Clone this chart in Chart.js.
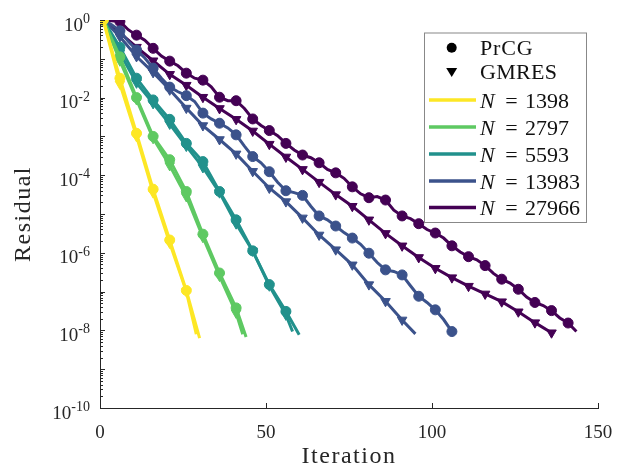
<!DOCTYPE html>
<html><head><meta charset="utf-8">
<script src="https://cdn.jsdelivr.net/npm/chart.js@4.4.1/dist/chart.umd.min.js"></script>
<style>html,body{margin:0;padding:0;background:#fff}#c{display:block}</style>
</head><body>
<canvas id="c" width="619" height="468" style="width:619px;height:468px"></canvas>
<script>
// ---- data (log10 of residual) ----
// marker values at iterations 1, 6, 11, ... (every 5 iterations)
const sizes = ['1398', '2797', '5593', '13983', '27966'];
const colors = ['#fde725', '#5ec962', '#21918c', '#3b528b', '#440154'];

const prcg1398  = [0, -1.50, -2.92, -4.36, -5.67, -6.97];
const prcg1398End = [30, -8.20];
const gmres1398 = [0, -1.65, -3.00, -4.45, -5.75, -7.00];
const gmres1398End = [29, -8.10];

const prcg2797  = [0, -0.95, -2.00, -3.00, -3.60, -4.42, -5.52, -6.52, -7.42];
const prcg2797End = [44, -8.17];
const gmres2797 = [0, -1.05, -2.05, -3.05, -3.75, -4.55, -5.60, -6.60, -7.55];
const gmres2797End = [43, -8.10];

const prcg5593  = [0, -0.70, -1.50, -2.06, -2.56, -3.18, -3.65, -4.42, -5.15, -5.95, -6.82, -7.51];
const prcg5593End = [60, -8.11];
const gmres5593 = [0, -0.85, -1.62, -2.15, -2.68, -3.25, -3.80, -4.45, -5.25, -5.95, -6.85, -7.60];
const gmres5593End = [58, -8.03];

const prcg13983 = [0, -0.28, -0.77, -1.24, -1.73, -1.95, -2.40, -2.66, -2.96, -3.52, -3.91, -4.40, -4.52,
                   -5.05, -5.31, -5.62, -6.01, -6.44, -6.57, -7.12, -7.47, -8.03];
// values between markers (iterations 3.5, 8.5, ...)
const prcg13983Mid = [-0.12, -0.55, -0.98, -1.50, -1.85, -2.10, -2.55, -2.78, -3.25, -3.68, -4.18, -4.45,
                      -4.80, -5.15, -5.48, -5.78, -6.25, -6.48, -6.85, -7.28, -7.72];
const gmres13983 = [0, -0.43, -0.94, -1.35, -1.80, -2.27, -2.72, -3.08, -3.45, -3.90, -4.33, -4.68, -5.10,
                    -5.54, -5.92, -6.31, -6.82, -7.25, -7.73];
const gmres13983End = [95, -8.09];

const prcg27966 = [0, -0.04, -0.39, -0.73, -1.06, -1.37, -1.55, -1.99, -2.08, -2.55, -2.85, -3.18, -3.48,
                   -3.68, -3.94, -4.30, -4.58, -4.64, -5.05, -5.25, -5.49, -5.82, -6.10, -6.33, -6.68,
                   -6.94, -7.28, -7.49, -7.81];
const prcg27966Mid = [-0.02, -0.25, -0.52, -0.93, -1.18, -1.50, -1.72, -2.08, -2.28, -2.72, -2.98, -3.35,
                      -3.55, -3.85, -4.08, -4.48, -4.55, -4.90, -5.12, -5.40, -5.62, -5.98, -6.18, -6.53,
                      -6.78, -7.14, -7.36, -7.68];
const prcg27966End = [143.5, -8.03];
const gmres27966 = [0, -0.33, -0.70, -1.05, -1.40, -1.68, -1.99, -2.28, -2.56, -2.86, -3.20, -3.53, -3.85,
                    -4.18, -4.50, -4.80, -5.15, -5.50, -5.82, -6.12, -6.40, -6.64, -6.86, -7.06, -7.26,
                    -7.52, -7.80, -8.06];

const xTicks = [0, 50, 100, 150];
const yTickExps = [0, -2, -4, -6, -8, -10];

// ---- build points ----
function build(markers, mids, end) {
  const pts = [];
  markers.forEach((e, i) => pts.push({x: 1 + 5 * i, y: Math.pow(10, e), m: true}));
  (mids || []).forEach((e, i) => pts.push({x: 3.5 + 5 * i, y: Math.pow(10, e), m: false}));
  if (end) pts.push({x: end[0], y: Math.pow(10, end[1]), m: false});
  pts.sort((a, b) => a.x - b.x);
  return pts;
}
const series = [
  [prcg1398, null, prcg1398End, gmres1398, null, gmres1398End],
  [prcg2797, null, prcg2797End, gmres2797, null, gmres2797End],
  [prcg5593, null, prcg5593End, gmres5593, null, gmres5593End],
  [prcg13983, prcg13983Mid, null, gmres13983, null, gmres13983End],
  [prcg27966, prcg27966Mid, prcg27966End, gmres27966, null, null]
];
const datasets = [];
series.forEach((s, k) => {
  const c = colors[k];
  datasets.push({label: 'PrCG N=' + sizes[k], data: build(s[0], s[1], s[2]), borderColor: c, backgroundColor: c,
    borderWidth: 3, pointStyle: 'circle', pointBorderWidth: 1,
    pointRadius: ctx => (ctx.raw && ctx.raw.m) ? 5 : 0, pointHoverRadius: 0});
  datasets.push({label: 'GMRES N=' + sizes[k], data: build(s[3], s[4], s[5]), borderColor: c, backgroundColor: c,
    borderWidth: 3, pointStyle: 'triangle', rotation: 180, pointBorderWidth: 1,
    pointRadius: ctx => (ctx.raw && ctx.raw.m) ? 5.5 : 0, pointHoverRadius: 0});
});

const AX = '#262626';
const SERIF = '"Liberation Serif", "Times New Roman", serif';

const decor = {
  id: 'decor',
  afterDraw(chart) {
    const ctx = chart.ctx, xs = chart.scales.x, ys = chart.scales.y, a = chart.chartArea;
    ctx.save();
    // tick marks (inward)
    ctx.strokeStyle = AX; ctx.lineWidth = 1;
    ctx.beginPath();
    for (let d = -10; d <= 0; d++) {
      for (let m = 1; m <= 9; m++) {
        if (d === 0 && m > 1) break;
        const py = Math.round(ys.getPixelForValue(m * Math.pow(10, d))) + 0.5;
        const len = m === 1 ? 5 : 3;
        ctx.moveTo(a.left, py); ctx.lineTo(a.left + len, py);
      }
    }
    xTicks.forEach(v => {
      const px = Math.round(xs.getPixelForValue(v)) + 0.5;
      ctx.moveTo(px, a.bottom); ctx.lineTo(px, a.bottom - 5);
    });
    ctx.stroke();

    // tick labels
    ctx.fillStyle = AX;
    ctx.textBaseline = 'alphabetic';
    yTickExps.forEach(e => {
      const py = ys.getPixelForValue(Math.pow(10, e));
      const sup = String(e);
      ctx.font = '19px ' + SERIF; const wb = ctx.measureText('10').width;
      ctx.font = '14px ' + SERIF; const wsup = ctx.measureText(sup).width;
      const left = a.left - 10 - wb - wsup;
      ctx.textAlign = 'left';
      ctx.font = '19px ' + SERIF; ctx.fillText('10', left, py + 10.5);
      ctx.font = '14px ' + SERIF; ctx.fillText(sup, left + wb, py + 3);
    });
    ctx.font = '19px ' + SERIF; ctx.textAlign = 'center';
    xTicks.forEach(v => ctx.fillText(String(v), xs.getPixelForValue(v), a.bottom + 30));

    // axis titles
    ctx.font = '24px ' + SERIF;
    ctx.letterSpacing = '1.5px';
    ctx.textAlign = 'center';
    ctx.fillText('Iteration', (a.left + a.right) / 2, 463);
    ctx.save();
    ctx.translate(30, (a.top + a.bottom) / 2);
    ctx.rotate(-Math.PI / 2);
    ctx.fillText('Residual', 0, 0);
    ctx.restore();
    ctx.letterSpacing = '0px';

    // legend
    const L = 424.5, T = 33, R = 586.5, B = 222.5;
    ctx.fillStyle = '#fff'; ctx.fillRect(L, T, R - L, B - T);
    ctx.strokeStyle = '#888'; ctx.lineWidth = 1; ctx.strokeRect(L, T, R - L, B - T);
    const tx = 480, mx = 451.7;
    ctx.fillStyle = '#000';
    ctx.beginPath(); ctx.arc(mx, 47.7, 5, 0, Math.PI * 2); ctx.fill();
    ctx.beginPath(); ctx.moveTo(mx - 5.5, 68); ctx.lineTo(mx + 5.5, 68); ctx.lineTo(mx, 77); ctx.closePath(); ctx.fill();
    ctx.fillStyle = '#111';
    ctx.textAlign = 'left';
    ctx.font = '22px ' + SERIF;
    ctx.letterSpacing = '0.8px';
    ctx.fillText('PrCG', tx, 55);
    ctx.letterSpacing = '0.3px';
    ctx.fillText('GMRES', tx, 79);
    ctx.letterSpacing = '0px';
    const rows = [100, 127, 154, 181, 207.5];
    rows.forEach((ry, k) => {
      ctx.strokeStyle = colors[k]; ctx.lineWidth = 3.5;
      ctx.beginPath(); ctx.moveTo(429, ry); ctx.lineTo(476, ry); ctx.stroke();
      ctx.fillStyle = '#111';
      ctx.font = 'italic 22px ' + SERIF; ctx.textAlign = 'left';
      ctx.fillText('N', tx, ry + 7.5);
      ctx.font = '22px ' + SERIF; ctx.textAlign = 'center';
      ctx.fillText('=', 511.5, ry + 7.5);
      ctx.textAlign = 'left';
      ctx.fillText(sizes[k], 525, ry + 7.5);
    });
    ctx.restore();
  }
};

new Chart(document.getElementById('c'), {
  type: 'line',
  data: {datasets},
  options: {
    responsive: false, animation: false,
    layout: {padding: {left: 100, top: 20, right: 21, bottom: 60}},
    plugins: {legend: {display: false}, tooltip: {enabled: false}},
    elements: {line: {tension: 0}},
    scales: {
      x: {type: 'linear', min: 0, max: 150,
          grid: {display: false, drawTicks: false}, ticks: {display: false},
          border: {display: true, color: AX, width: 1}},
      y: {type: 'logarithmic', min: 1e-10, max: 1,
          grid: {display: false, drawTicks: false}, ticks: {display: false},
          border: {display: true, color: AX, width: 1}}
    }
  },
  plugins: [decor]
});
</script>
</body></html>
